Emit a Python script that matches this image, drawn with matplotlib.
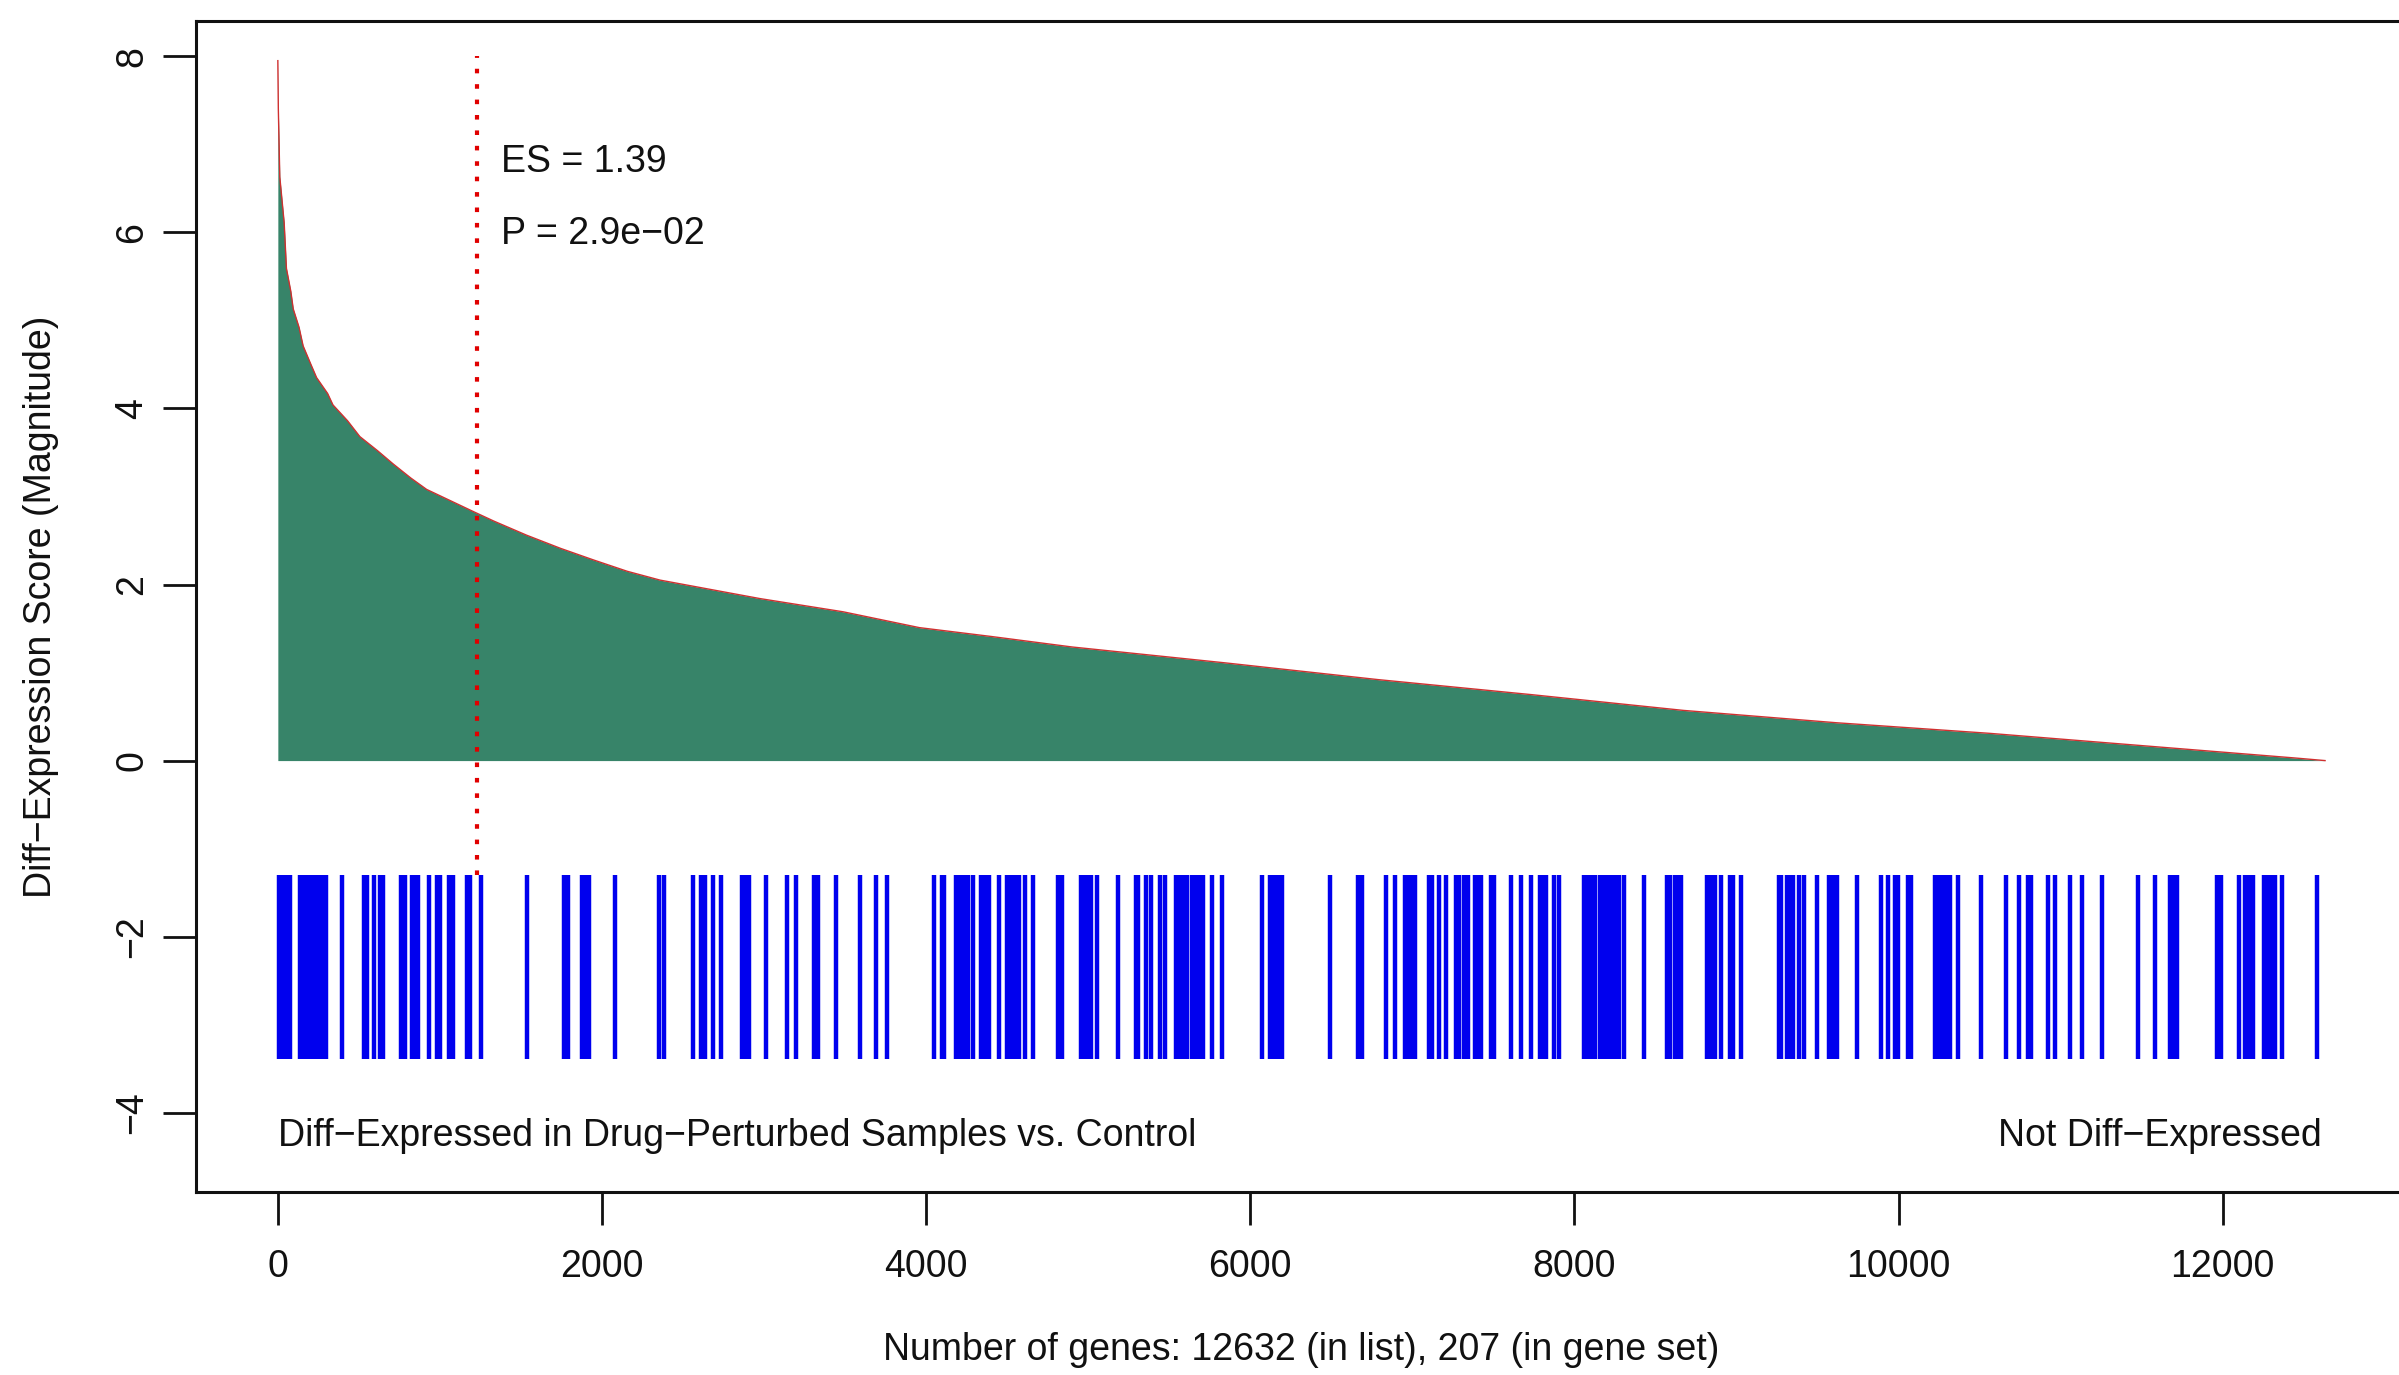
import matplotlib
matplotlib.use("Agg")
import matplotlib.pyplot as plt

# ---- data ----
rank_points = [0, 3, 12, 39, 53, 80, 95, 131, 156, 204, 239, 307, 340, 430, 506, 615,
               711, 820, 918, 1067, 1216, 1333, 1535, 1745, 1946, 2156, 2358, 2975,
               3488, 3959, 4400, 4902, 5845, 6787, 7730, 8673, 9615, 10558, 11501,
               12443, 12632]
score_points = [7.95, 7.40, 6.63, 6.11, 5.59, 5.33, 5.13, 4.92, 4.71, 4.50, 4.35,
                4.17, 4.04, 3.86, 3.68, 3.52, 3.37, 3.21, 3.08, 2.95, 2.82, 2.72,
                2.56, 2.41, 2.28, 2.15, 2.05, 1.84, 1.69, 1.51, 1.41, 1.29, 1.11,
                0.92, 0.75, 0.57, 0.43, 0.31, 0.17, 0.03, 0.0]

gene_set_ranks = [
    8, 22, 36, 50, 64, 75, 135, 150, 165, 180, 195, 210, 225, 240, 255, 270, 285, 300,
    397, 530, 550, 592, 632, 651, 760, 782, 826, 845, 864, 935, 982, 1000, 1058, 1080,
    1167, 1188, 1256, 1535, 1763, 1788, 1876, 1897, 1918, 2082, 2354, 2380,
    2560, 2613, 2633, 2685, 2733, 2863, 2886, 2909, 3015, 3144, 3195, 3310, 3335, 3446,
    3592, 3690, 3760, 4046, 4095, 4110, 4187, 4205, 4222, 4240, 4256, 4290, 4336, 4355,
    4372, 4390, 4448, 4501, 4520, 4538, 4556, 4574, 4608, 4660, 4815, 4840, 4953, 4972,
    4995, 5015, 5056,
    5185, 5292, 5310, 5358, 5385, 5445, 5472, 5544, 5564, 5586, 5607, 5641, 5662, 5684,
    5706, 5763, 5828, 6070, 6121, 6145, 6170, 6193, 6495, 6662, 6688, 6840, 6895, 6956,
    6976, 6996, 7015, 7104, 7121, 7163, 7206, 7271, 7288, 7318, 7342, 7388, 7407, 7426,
    7484, 7507, 7612, 7670,
    7734, 7786, 7806, 7827, 7872, 7905, 8061, 8082, 8104, 8126, 8156, 8176, 8196, 8216,
    8236, 8256, 8276, 8306, 8428, 8570, 8588, 8622, 8641, 8660, 8819, 8843, 8867, 8907,
    8962, 8979, 9030, 9260, 9277, 9315, 9335, 9348, 9387, 9418, 9500, 9571, 9595, 9618,
    9743, 9890, 9937, 9978, 9995, 10060, 10077, 10225, 10248, 10272,
    10297, 10315, 10367, 10512, 10662, 10744, 10801, 10818, 10924, 10963, 11058, 11135,
    11257, 11476, 11580, 11673, 11695, 11717, 11967, 11990, 12103, 12137, 12160, 12190,
    12257, 12280, 12303, 12326, 12369, 12583,
]

es_rank = 1228
n_genes = 12632
n_set = 207
es_text = "ES = 1.39"
p_text = "P = 2.9e\u221202"

FS = 27

# ---- figure ----
plt.rcParams['font.family'] = ['Liberation Sans', 'DejaVu Sans']
fig = plt.figure(figsize=(23.99, 13.75), dpi=100)
ax = fig.add_axes([0.0817, 0.1331, 0.9216, 0.8516])

ax.fill_between(rank_points, 0, score_points, color="#378469", linewidth=0)
ax.plot(rank_points, score_points, color="#d03030", linewidth=1.0)

ax.vlines(gene_set_ranks, -3.39, -1.30, colors="#0000ee", linewidth=3.2)

ax.plot([es_rank, es_rank], [-1.30, 8.0], color="#e00000",
        linewidth=3.0, linestyle=(0, (1.1, 2.6)))

ax.text(1377, 6.80, es_text, fontsize=FS, ha="left", va="center", color="#111111")
ax.text(1377, 5.98, p_text, fontsize=FS, ha="left", va="center", color="#111111")
ax.text(0, -4.26, "Diff\u2212Expressed in Drug\u2212Perturbed Samples vs. Control",
        fontsize=FS, ha="left", va="center", color="#111111")
ax.text(12614, -4.26, "Not Diff\u2212Expressed", fontsize=FS, ha="right",
        va="center", color="#111111")

ax.set_xlim(-505, 13137)
ax.set_ylim(-4.90, 8.40)

ax.set_xticks([0, 2000, 4000, 6000, 8000, 10000, 12000])
ax.set_yticks([-4, -2, 0, 2, 4, 6, 8])
ax.set_yticklabels(["\u22124", "\u22122", "0", "2", "4", "6", "8"],
                   rotation=90, va="center")
ax.tick_params(axis="both", labelsize=FS, length=24, width=2, color="#111111",
               labelcolor="#111111")
ax.tick_params(axis="x", pad=17)
ax.tick_params(axis="y", pad=9)

for s in ax.spines.values():
    s.set_linewidth(2.2)
    s.set_color("#111111")

ax.set_xlabel(f"Number of genes: {n_genes} (in list), {n_set} (in gene set)",
              fontsize=FS, labelpad=34, color="#111111")
ax.set_ylabel("Diff\u2212Expression Score (Magnitude)", fontsize=FS, labelpad=40,
              color="#111111")

fig.savefig("out.png", dpi=100)
